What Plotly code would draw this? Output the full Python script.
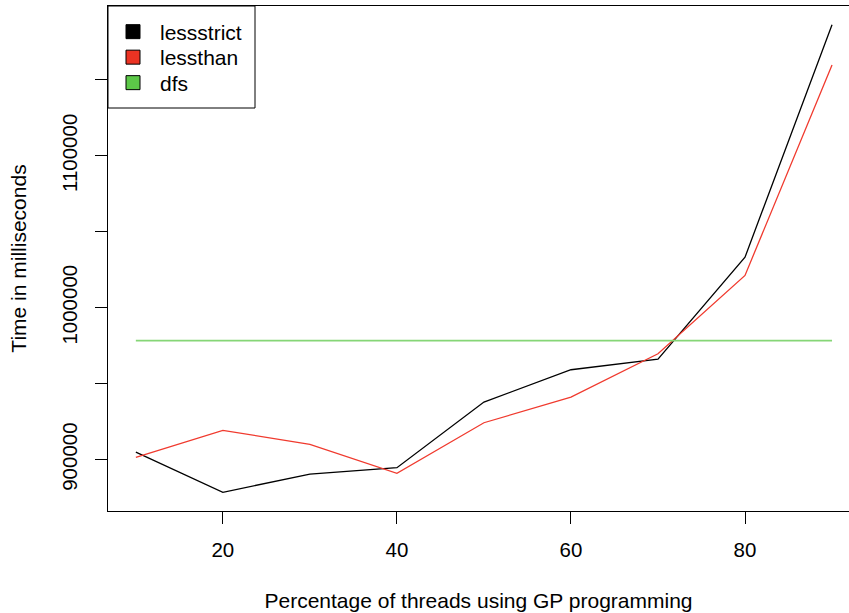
import plotly.graph_objects as go

threads_pct = [10, 20, 30, 40, 50, 60, 70, 80, 90]
lessstrict = [905000, 878500, 890500, 894700, 937900, 959200, 966200, 1033300, 1186400]
lessthan = [901500, 919300, 910100, 891000, 924300, 941200, 969700, 1021300, 1159900]
dfs_value = 978400
dfs = [dfs_value] * len(threads_pct)

series_names = ["lessstrict", "lessthan", "dfs"]
legend_fill = ["#000000", "#EC3323", "#5CC848"]
line_colors = ["#000000", "#F03A2E", "#86D677"]
line_widths = [1.3, 1.3, 1.6]

y_tick_vals = [900000, 950000, 1000000, 1050000, 1100000, 1150000]
y_tick_text = ["900000", "", "1000000", "", "1100000", ""]
x_tick_vals = [20, 40, 60, 80]

FONT = "Liberation Sans, Arial, Helvetica, sans-serif"

W, H = 849, 613
ML, MR, MT, MB = 108, 0, 6, 102
PW, PH = W - ML - MR, H - MT - MB

all_y = lessstrict + lessthan + dfs
ymin, ymax = min(all_y), max(all_y)
d = ymax - ymin
y_range = [ymin - 0.04 * d, ymax + 0.04 * d]
xd = max(threads_pct) - min(threads_pct)
x_range = [min(threads_pct) - 0.04 * xd, 91.95]

legend_ids = ["legend", "legend2", "legend3"]
legend_rows_px = [32, 57.5, 83]

fig = go.Figure()
for name, ys, lc, lw in zip(series_names, [lessstrict, lessthan, dfs], line_colors, line_widths):
    fig.add_trace(go.Scatter(x=threads_pct, y=ys, mode="lines", name=name,
                             line=dict(color=lc, width=lw), showlegend=False))
for name, fc, lid in zip(series_names, legend_fill, legend_ids):
    fig.add_trace(go.Scatter(x=[None], y=[None], mode="markers", name=name,
                             marker=dict(symbol="square", size=14, color=fc,
                                         line=dict(color="#000000", width=1)),
                             showlegend=True, legend=lid))

legend_common = dict(xanchor="left", yanchor="middle", borderwidth=0,
                     bgcolor="rgba(0,0,0,0)", itemwidth=44, font=dict(size=21))
layout_legends = {}
for lid, py in zip(legend_ids, legend_rows_px):
    layout_legends[lid] = dict(legend_common, x=-2 / PW, y=1 - (py - MT) / PH)

# legend frame
fig.add_shape(type="rect", xref="paper", yref="paper",
              x0=0, x1=(255 - ML) / PW, y0=1 - (108 - MT) / PH, y1=1,
              line=dict(color="#000000", width=1), fillcolor="white", layer="below")

fig.update_layout(
    width=W, height=H,
    margin=dict(l=ML, r=MR, t=MT, b=MB),
    paper_bgcolor="white", plot_bgcolor="white",
    font=dict(family=FONT, size=21, color="#000000"),
    xaxis=dict(range=x_range, showgrid=False, zeroline=False, automargin=False,
               showline=True, linecolor="#000000", linewidth=1, mirror=True,
               ticks="outside", ticklen=12, tickcolor="#000000",
               tickvals=x_tick_vals, tickfont=dict(size=20.5), ticklabelstandoff=8,
               title=dict(text="Percentage of threads using GP programming",
                          font=dict(size=21), standoff=33)),
    yaxis=dict(range=y_range, showgrid=False, zeroline=False, automargin=False,
               showline=True, linecolor="#000000", linewidth=1, mirror=False,
               ticks="outside", ticklen=12, tickcolor="#000000",
               tickvals=y_tick_vals, ticktext=y_tick_text, tickangle=-90,
               tickfont=dict(size=20.5), ticklabelstandoff=10,
               title=dict(text="Time in milliseconds", font=dict(size=21), standoff=25)),
    **layout_legends,
)

fig.write_html("out.html", config={"displayModeBar": False},
               post_script="document.body.style.margin='0px';document.body.style.overflow='hidden';")
